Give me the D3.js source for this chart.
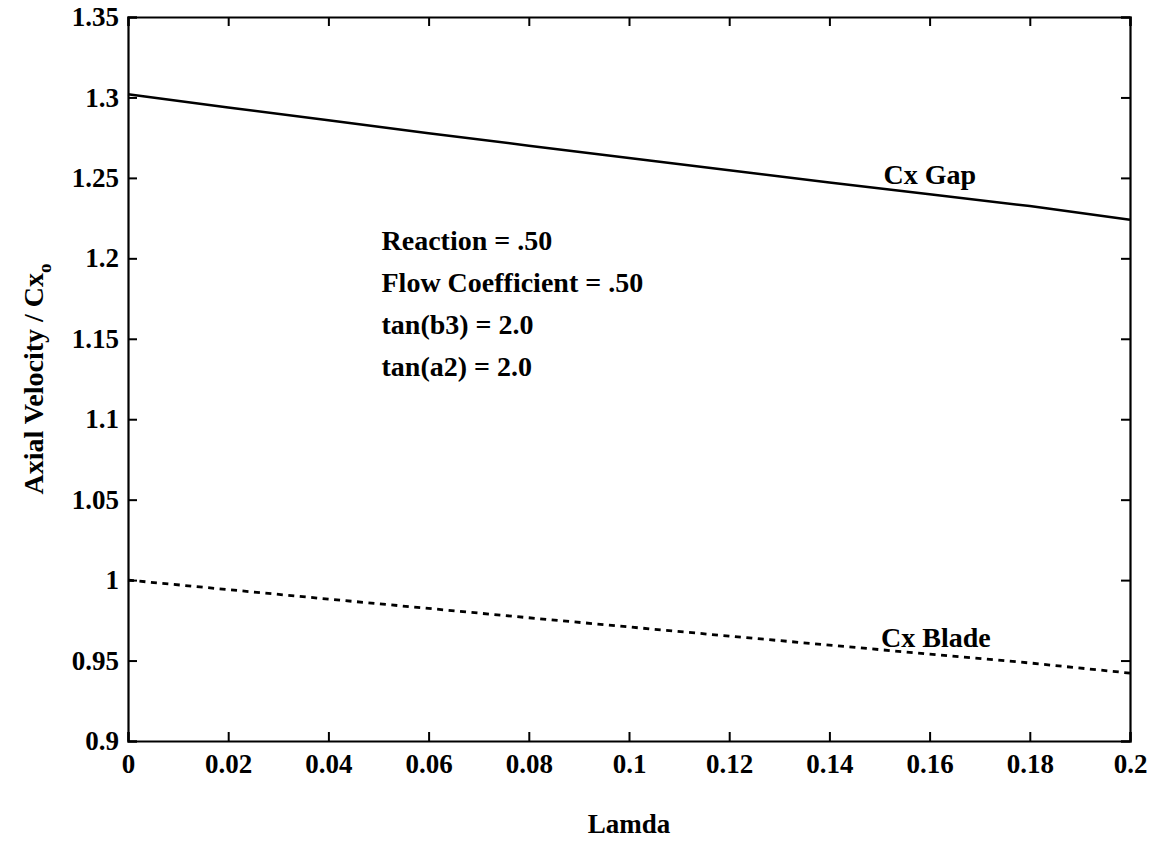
<!DOCTYPE html>
<html>
<head>
<meta charset="utf-8">
<script src="https://cdn.jsdelivr.net/npm/d3@7"></script>
<style>
  body { margin: 0; background: #fff; }
  text { font-family: "Liberation Serif", "DejaVu Serif", serif; font-weight: bold; fill: #000; }
</style>
</head>
<body>
<div id="chart"></div>
<script>
// data
var lamda = [0, 0.02, 0.04, 0.06, 0.08, 0.1, 0.12, 0.14, 0.16, 0.18, 0.2];
var cxGap = [1.302, 1.2938, 1.2858, 1.2778, 1.2700, 1.2623, 1.2547, 1.2472, 1.2398, 1.2325, 1.2240];
var cxBlade = [1.0, 0.9941, 0.9882, 0.9824, 0.9766, 0.9709, 0.9652, 0.9596, 0.9540, 0.9485, 0.9422];
var xTicks = [0, 0.02, 0.04, 0.06, 0.08, 0.1, 0.12, 0.14, 0.16, 0.18, 0.2];
var yTicks = [0.9, 0.95, 1, 1.05, 1.1, 1.15, 1.2, 1.25, 1.3, 1.35];
var notes = ["Reaction = .50", "Flow Coefficient = .50", "tan(b3) = 2.0", "tan(a2) = 2.0"];

var W = 1156, H = 842;
var margin = {top: 17, right: 26, bottom: 101, left: 128};
var width = W - margin.left - margin.right;
var height = H - margin.top - margin.bottom;

var svg = d3.select("#chart").append("svg")
    .attr("width", W)
    .attr("height", H);

var g = svg.append("g")
    .attr("transform", "translate(" + margin.left + "," + margin.top + ")");

var x = d3.scaleLinear().domain([0, 0.2]).range([0, width]);
var y = d3.scaleLinear().domain([0.9, 1.35]).range([height, 0]);

var tickFmt = function(d){ return String(d); };
var tickLen = 9;

// bottom + left axes with labels, ticks pointing inward
var xAxis = g.append("g")
    .attr("transform", "translate(0," + height + ")")
    .call(d3.axisBottom(x).tickValues(xTicks).tickFormat(tickFmt).tickSize(-tickLen).tickPadding(14));
var yAxis = g.append("g")
    .call(d3.axisLeft(y).tickValues(yTicks).tickFormat(tickFmt).tickSize(-tickLen).tickPadding(9));
// top + right, ticks only
var xTop = g.append("g")
    .call(d3.axisTop(x).tickValues(xTicks).tickFormat("").tickSize(-tickLen));
var yRight = g.append("g")
    .attr("transform", "translate(" + width + ",0)")
    .call(d3.axisRight(y).tickValues(yTicks).tickFormat("").tickSize(-tickLen));

[xAxis, yAxis, xTop, yRight].forEach(function(a){
    a.select(".domain").attr("stroke", "#000").attr("stroke-width", 2.2);
    a.selectAll(".tick line").attr("stroke", "#000").attr("stroke-width", 2);
    a.selectAll(".tick text").style("font-size", "27px");
});
xAxis.selectAll(".tick text").attr("dy", "0.68em");

var line = d3.line()
    .x(function(d){ return x(d[0]); })
    .y(function(d){ return y(d[1]); });

g.append("path")
    .datum(lamda.map(function(l, i){ return [l, cxGap[i]]; }))
    .attr("fill", "none")
    .attr("stroke", "#000")
    .attr("stroke-width", 2.5)
    .attr("d", line);

g.append("path")
    .datum(lamda.map(function(l, i){ return [l, cxBlade[i]]; }))
    .attr("fill", "none")
    .attr("stroke", "#000")
    .attr("stroke-width", 2.8)
    .attr("stroke-dasharray", "6,5.5")
    .attr("d", line);

// curve labels
g.append("text")
    .attr("x", x(0.1508)).attr("y", y(1.2465))
    .style("font-size", "28px")
    .text("Cx Gap");
g.append("text")
    .attr("x", x(0.1503)).attr("y", y(0.9585))
    .style("font-size", "28px")
    .text("Cx Blade");

// parameter block
g.selectAll(".note")
    .data(notes)
    .enter()
    .append("text")
    .attr("class", "note")
    .attr("x", x(0.0506))
    .attr("y", function(d, i){ return 233 + i * 42; })
    .style("font-size", "28px")
    .text(function(d){ return d; });

// axis titles
svg.append("text")
    .attr("x", margin.left + width / 2)
    .attr("y", 833)
    .attr("text-anchor", "middle")
    .style("font-size", "27px")
    .text("Lamda");

var yt = svg.append("text")
    .attr("transform", "translate(43," + (margin.top + height / 2) + ") rotate(-90)")
    .attr("text-anchor", "middle")
    .style("font-size", "28px");
yt.append("tspan").text("Axial Velocity / Cx");
yt.append("tspan").attr("dy", 8).style("font-size", "19px").text("o");
</script>
</body>
</html>
